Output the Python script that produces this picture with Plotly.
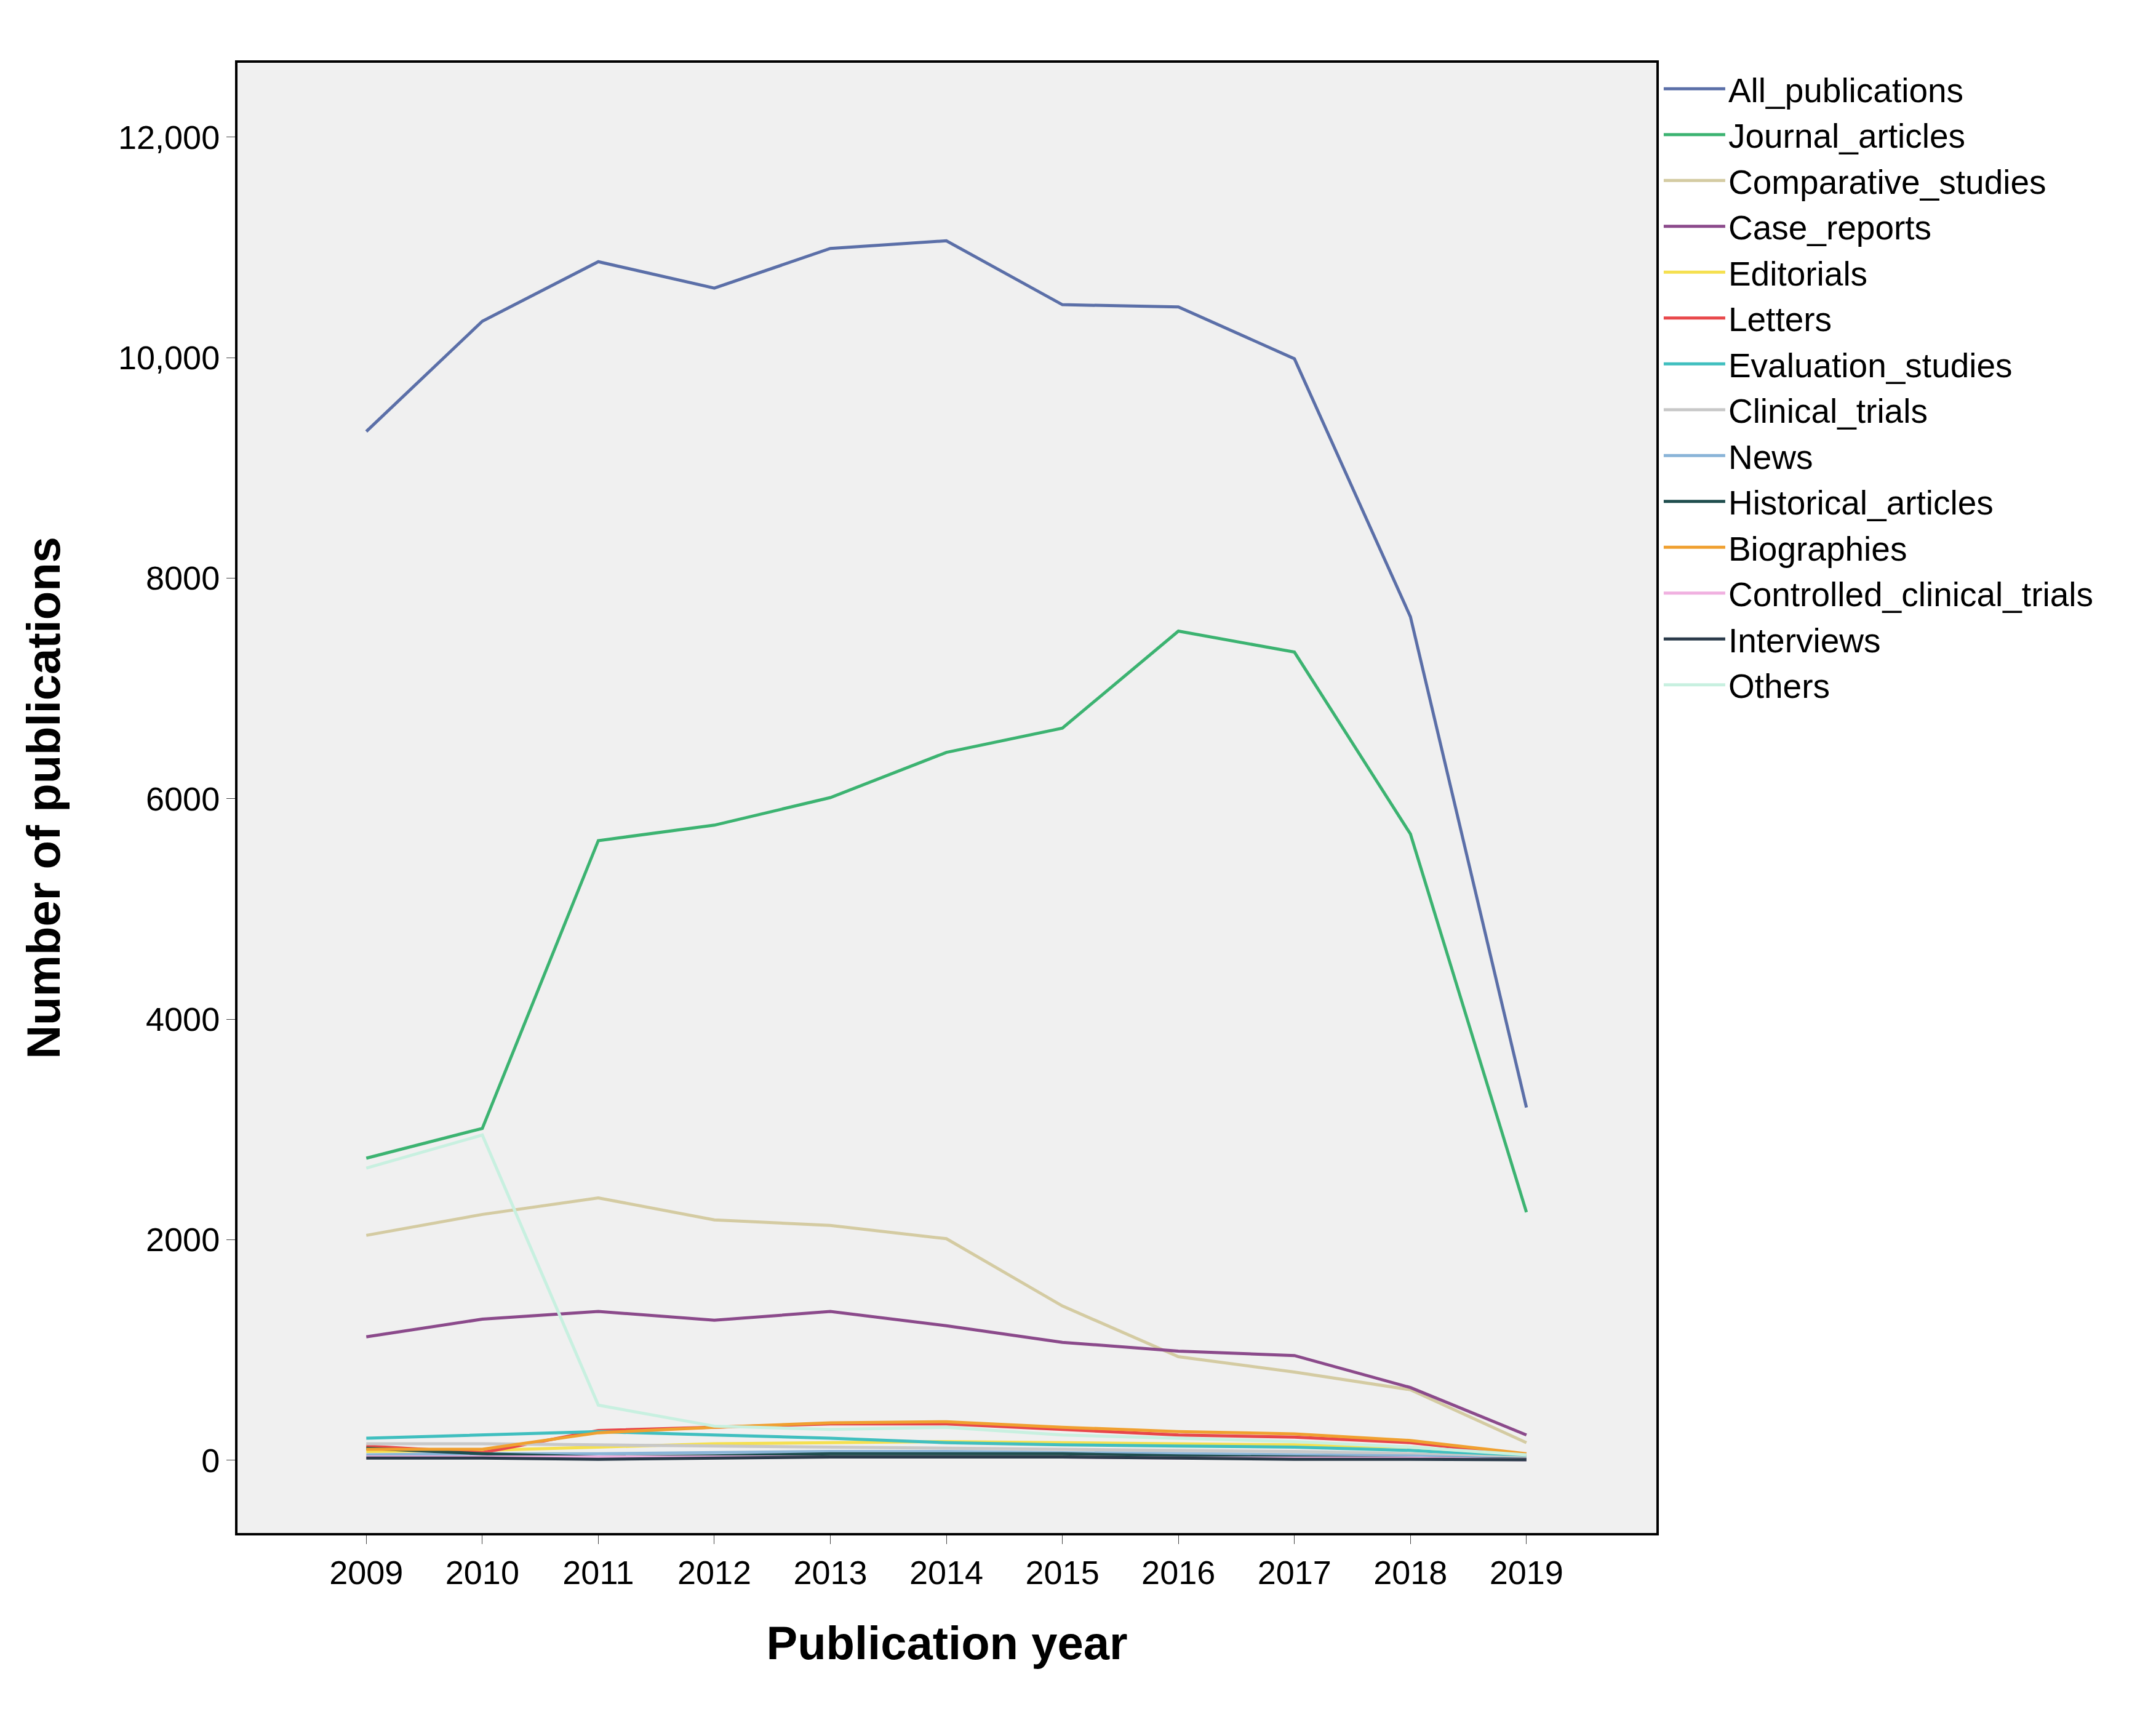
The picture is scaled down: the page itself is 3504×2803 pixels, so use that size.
import plotly.graph_objects as go

years = [2009, 2010, 2011, 2012, 2013, 2014, 2015, 2016, 2017, 2018, 2019]
series_names = ["All_publications", "Journal_articles", "Comparative_studies", "Case_reports",
                "Editorials", "Letters", "Evaluation_studies", "Clinical_trials", "News",
                "Historical_articles", "Biographies", "Controlled_clinical_trials", "Interviews", "Others"]
all_publications = [9330, 10330, 10870, 10630, 10990, 11060, 10480, 10460, 9990, 7650, 3200]
journal_articles = [2740, 3010, 5620, 5760, 6010, 6420, 6640, 7520, 7330, 5680, 2250]
comparative_studies = [2040, 2230, 2380, 2180, 2130, 2010, 1400, 940, 800, 640, 160]
case_reports = [1120, 1280, 1350, 1270, 1350, 1220, 1070, 990, 950, 660, 230]
editorials = [80, 90, 120, 150, 160, 170, 160, 150, 140, 120, 40]
letters = [130, 70, 270, 300, 330, 330, 280, 230, 210, 160, 50]
evaluation_studies = [200, 230, 260, 230, 200, 160, 140, 130, 120, 90, 30]
clinical_trials = [150, 150, 140, 130, 120, 110, 100, 90, 80, 60, 20]
news = [50, 60, 60, 70, 80, 80, 70, 60, 50, 40, 10]
historical_articles = [110, 60, 30, 40, 60, 60, 60, 40, 30, 20, 10]
biographies = [100, 100, 250, 300, 340, 350, 300, 260, 240, 180, 60]
controlled_clinical_trials = [30, 30, 30, 30, 30, 30, 30, 20, 20, 20, 5]
interviews = [20, 20, 10, 20, 30, 30, 30, 20, 10, 10, 5]
others = [2650, 2950, 500, 310, 280, 300, 230, 200, 170, 120, 50]
ytick_vals = [0, 2000, 4000, 6000, 8000, 10000, 12000]
ytick_text = ["0", "2000", "4000", "6000", "8000", "10,000", "12,000"]

data = [all_publications, journal_articles, comparative_studies, case_reports, editorials, letters,
        evaluation_studies, clinical_trials, news, historical_articles, biographies,
        controlled_clinical_trials, interviews, others]
colors = ["#5b6fa8", "#3cb371", "#d4cba2", "#8b4a8b", "#f5e050", "#e8474a", "#40bfbf", "#c8c8c8",
          "#8ab4d8", "#1f4e4e", "#f0a030", "#f0b0e0", "#2a3a4a", "#c8f0e0"]

fig = go.Figure()
for name, vals, c in zip(series_names, data, colors):
    fig.add_trace(go.Scatter(x=years, y=vals, name=name, mode="lines", line=dict(color=c, width=5)))

fig.update_layout(
    width=3504, height=2803,
    margin=dict(l=378, r=820, t=94, b=320),
    paper_bgcolor="white", plot_bgcolor="#f0f0f0",
    font=dict(family="Liberation Sans, Arial", size=52, color="black"),
    legend=dict(x=1.003, y=1.0, xanchor="left", yanchor="top", font=dict(size=55),
                tracegroupgap=0, itemwidth=100, bgcolor="rgba(0,0,0,0)"),
    showlegend=True,
)
fig.update_xaxes(range=[2007.89, 2020.12], tickvals=years, ticks="outside", ticklen=14,
                 showgrid=False, zeroline=False, showline=True, linecolor="black", linewidth=4,
                 mirror=True, tickfont=dict(size=54),
                 title=dict(text="<b>Publication year</b>", font=dict(size=76), standoff=60))
fig.update_yaxes(range=[-659, 12674], tickvals=ytick_vals, ticktext=ytick_text, ticks="outside",
                 ticklen=14, showgrid=False, zeroline=False, showline=True, linecolor="black",
                 linewidth=4, mirror=True, tickfont=dict(size=54),
                 title=dict(text="<b>Number of publications</b>", font=dict(size=76), standoff=70))
fig.write_html("out.html")
